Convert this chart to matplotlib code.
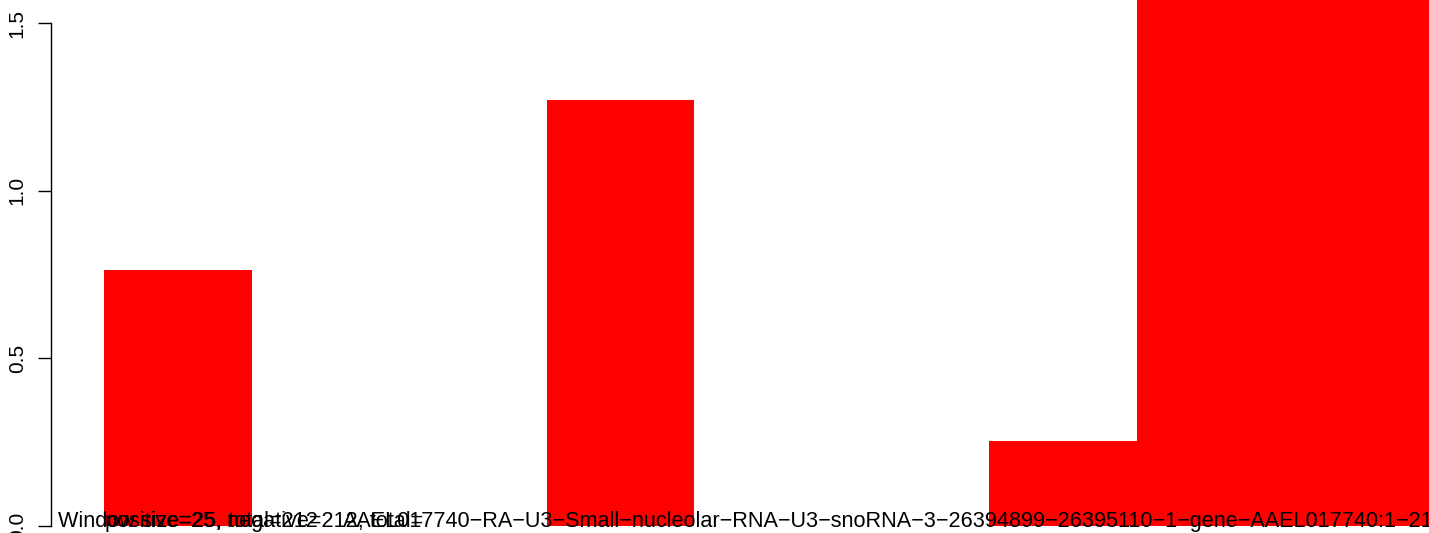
import matplotlib
matplotlib.use("Agg")
import matplotlib.pyplot as plt

# window bins and their scores (last two bins run off the top of the plot)
bins = [0, 1, 2, 3, 4, 5, 6, 7, 8]
scores = [0.763, 0.0, 0.0, 1.27, 0.0, 0.0, 0.253, 1.75, 1.85]
y_ticks = [0.0, 0.5, 1.0, 1.5]
y_tick_labels = ["0.0", "0.5", "1.0", "1.5"]

window_label = "Window size=25, total=212"
count_label = "positive=25, negative=212, total="
gene_label = ("AAEL017740\u2212RA\u2212U3\u2212Small\u2212nucleolar\u2212RNA\u2212U3\u2212"
              "snoRNA\u22123\u221226394899\u221226395110\u22121\u2212gene\u2212AAEL017740:1\u2212212")

W, H = 1429, 533
plt.rcParams['font.family'] = ['Liberation Sans', 'DejaVu Sans']

fig = plt.figure(figsize=(W / 100, H / 100), dpi=100)
ax = fig.add_axes([51 / W, 7 / H, (W - 51) / W, 526 / H])

ax.bar(bins, scores, width=1.0, align='edge', color='#ff0000', linewidth=0)

bar_px = 147.5
x0 = -(104 - 51) / bar_px
ax.set_xlim(x0, x0 + (W - 51) / bar_px)
ax.set_ylim(0, 526 / 335.3)

for side in ['top', 'right', 'bottom']:
    ax.spines[side].set_visible(False)
ax.spines['left'].set_bounds(0, 1.5)
ax.spines['left'].set_linewidth(1.0)
ax.set_xticks([])
ax.set_yticks(y_ticks)
ax.set_yticklabels(y_tick_labels, fontsize=15)
ax.tick_params(axis='y', length=9.4, width=1.0, pad=8)
for lbl in ax.get_yticklabels():
    lbl.set_rotation(90)
    lbl.set_va('center')

# overlapping labels along the bottom, as in the original
base_y = (533 - 527) / H
fs = 15.6
fig.text(58 / W, base_y, window_label, fontsize=fs, va='baseline', ha='left')
fig.text(105 / W, base_y, count_label, fontsize=fs, va='baseline', ha='left')
fig.text(343 / W, base_y, gene_label, fontsize=fs, va='baseline', ha='left')

fig.savefig("out.png", dpi=100)
